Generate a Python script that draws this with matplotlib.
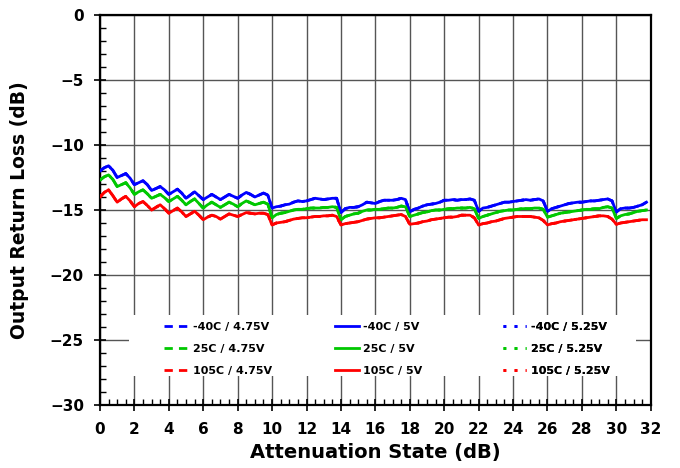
import numpy as np
import matplotlib
matplotlib.use("Agg")
import matplotlib.pyplot as plt
from matplotlib.ticker import MultipleLocator
from matplotlib.patches import Rectangle

# attenuation states, 0.25 dB steps
states = np.arange(0, 32, 0.25)

# output return loss (dB), one row per 1 dB of attenuation
rl_m40 = [
    -12.0, -11.75, -11.6, -11.95,
    -12.5, -12.35, -12.2, -12.55,
    -13.05, -12.9, -12.75, -13.05,
    -13.5, -13.35, -13.2, -13.45,
    -13.8, -13.6, -13.4, -13.7,
    -14.1, -13.85, -13.6, -13.9,
    -14.2, -14.0, -13.8, -14.0,
    -14.2, -14.0, -13.8, -13.95,
    -14.1, -13.85, -13.65, -13.8,
    -14.0, -13.85, -13.7, -13.85,
    -14.85, -14.75, -14.7, -14.6,
    -14.55, -14.4, -14.3, -14.35,
    -14.3, -14.2, -14.1, -14.15,
    -14.2, -14.15, -14.1, -14.1,
    -15.2, -14.9, -14.8, -14.8,
    -14.75, -14.6, -14.4, -14.45,
    -14.5, -14.35, -14.25, -14.25,
    -14.25, -14.2, -14.1, -14.2,
    -15.15, -14.95, -14.85, -14.7,
    -14.6, -14.55, -14.5, -14.4,
    -14.25, -14.25, -14.2, -14.25,
    -14.2, -14.2, -14.15, -14.25,
    -15.1, -14.85, -14.8, -14.7,
    -14.6, -14.5, -14.4, -14.4,
    -14.35, -14.3, -14.25, -14.2,
    -14.25, -14.2, -14.15, -14.3,
    -15.1, -14.9, -14.8, -14.7,
    -14.6, -14.5, -14.45, -14.4,
    -14.4, -14.35, -14.3, -14.3,
    -14.25, -14.2, -14.15, -14.3,
    -15.15, -14.9, -14.85, -14.85,
    -14.8, -14.7, -14.6, -14.4,
]

rl_25 = [
    -12.7, -12.45, -12.3, -12.65,
    -13.2, -13.05, -12.9, -13.3,
    -13.8, -13.6, -13.45, -13.75,
    -14.1, -13.95, -13.8, -14.05,
    -14.35, -14.15, -13.95, -14.25,
    -14.6, -14.35, -14.15, -14.5,
    -14.85, -14.6, -14.4, -14.6,
    -14.8, -14.6, -14.4, -14.55,
    -14.75, -14.5, -14.3, -14.45,
    -14.6, -14.5, -14.4, -14.55,
    -15.6, -15.35, -15.25, -15.2,
    -15.1, -15.0, -14.95, -14.95,
    -14.9, -14.85, -14.85, -14.85,
    -14.8, -14.8, -14.75, -14.8,
    -15.75, -15.5, -15.4, -15.3,
    -15.25, -15.1, -15.0, -15.0,
    -14.95, -14.95, -14.9, -14.85,
    -14.85, -14.8, -14.7, -14.75,
    -15.5, -15.4, -15.3, -15.2,
    -15.15, -15.05, -15.0, -15.0,
    -14.95, -14.9, -14.9, -14.85,
    -14.85, -14.85, -14.8, -14.9,
    -15.65, -15.5, -15.4, -15.3,
    -15.2, -15.1, -15.05, -15.0,
    -15.0, -14.95, -14.9, -14.9,
    -14.9, -14.85, -14.85, -14.95,
    -15.55, -15.45, -15.35, -15.25,
    -15.2, -15.15, -15.1, -15.05,
    -15.0, -14.95, -14.95, -14.9,
    -14.9, -14.8, -14.75, -14.85,
    -15.65, -15.45, -15.35, -15.3,
    -15.2, -15.1, -15.05, -15.0,
]

rl_105 = [
    -14.0, -13.65, -13.45, -13.9,
    -14.4, -14.15, -13.95, -14.3,
    -14.75, -14.5, -14.35, -14.65,
    -15.0, -14.8, -14.6, -14.9,
    -15.25, -15.05, -14.85, -15.15,
    -15.5, -15.3, -15.1, -15.4,
    -15.75, -15.55, -15.4, -15.5,
    -15.7, -15.5, -15.3, -15.4,
    -15.5, -15.35, -15.2, -15.25,
    -15.3, -15.25, -15.25, -15.35,
    -16.15, -16.0, -15.95, -15.9,
    -15.8, -15.7, -15.65, -15.6,
    -15.6, -15.55, -15.5, -15.5,
    -15.45, -15.45, -15.4, -15.5,
    -16.15, -16.05, -16.0, -15.95,
    -15.9, -15.8, -15.7, -15.65,
    -15.6, -15.6, -15.55, -15.5,
    -15.45, -15.4, -15.35, -15.5,
    -16.1, -16.05, -16.0, -15.9,
    -15.85, -15.75, -15.7, -15.65,
    -15.6, -15.55, -15.55, -15.5,
    -15.4, -15.4, -15.4, -15.6,
    -16.15, -16.05, -16.0, -15.9,
    -15.85, -15.75, -15.65, -15.6,
    -15.55, -15.5, -15.5, -15.5,
    -15.5, -15.55, -15.6, -15.8,
    -16.15, -16.05, -16.0, -15.9,
    -15.85, -15.8, -15.75, -15.7,
    -15.65, -15.6, -15.55, -15.5,
    -15.45, -15.45, -15.5, -15.7,
    -16.1, -16.0, -15.95, -15.9,
    -15.85, -15.8, -15.75, -15.75,
]

temps = ["-40C", "25C", "105C"]
volts = ["4.75V", "5V", "5.25V"]
colors = ["#0000ff", "#00c800", "#ff0000"]
styles = [(0, (3, 2.2)), "-", (0, (1, 3))]
curves = [rl_m40, rl_25, rl_105]

plt.rcParams["font.family"] = "DejaVu Sans"
plt.rcParams["font.weight"] = "bold"

fig = plt.figure(figsize=(6.8, 4.68), dpi=100)
ax = fig.add_axes([0.147, 0.1346, 0.81, 0.8334])

handles = {}
# dashed / dotted first, solid on top (the voltages overlap)
for vi in [0, 2, 1]:
    for ti in range(3):
        ln, = ax.plot(states, curves[ti], color=colors[ti], linestyle=styles[vi],
                      lw=2.0, label=temps[ti] + " / " + volts[vi],
                      zorder=3 + (vi == 1))
        handles[(vi, ti)] = ln

ax.set_xlim(0, 32)
ax.set_ylim(-30, 0)
ax.xaxis.set_major_locator(MultipleLocator(2))
ax.xaxis.set_minor_locator(MultipleLocator(0.5))
ax.yaxis.set_major_locator(MultipleLocator(5))
ax.yaxis.set_minor_locator(MultipleLocator(1))
ax.grid(True, which="major", color="#555555", lw=1.0)
ax.tick_params(which="major", direction="inout", length=9, width=1.2, labelsize=11)
ax.tick_params(which="minor", direction="in", length=4, width=1.0)
ax.tick_params(axis="x", which="major", pad=8)
ax.tick_params(axis="y", which="major", pad=7)
for s in ax.spines.values():
    s.set_linewidth(1.6)
    s.set_color("black")

ax.set_xlabel("Attenuation State (dB)", fontsize=14, fontweight="bold")
ax.set_ylabel("Output Return Loss (dB)", fontsize=13.5, fontweight="bold")
ax.xaxis.set_label_coords(0.5, -0.097)
ax.yaxis.set_label_coords(-0.128, 0.5)

# white box behind the legend hides the grid there
ax.add_patch(Rectangle((0.053, 0.074), 0.92, 0.157, transform=ax.transAxes,
                       facecolor="white", edgecolor="none", zorder=2))

col_x = [0.117, 0.4265, 0.731]
for vi in range(3):
    hs = [handles[(vi, ti)] for ti in range(3)]
    leg = ax.legend(hs, [h.get_label() for h in hs], loc="upper left",
                    bbox_to_anchor=(col_x[vi], 0.212), frameon=False,
                    fontsize=8, handlelength=2.15, handletextpad=0.4,
                    labelspacing=1.05, borderpad=0, borderaxespad=0)
    leg.set_zorder(6)
    ax.add_artist(leg)

fig.savefig("out.png", dpi=100)
